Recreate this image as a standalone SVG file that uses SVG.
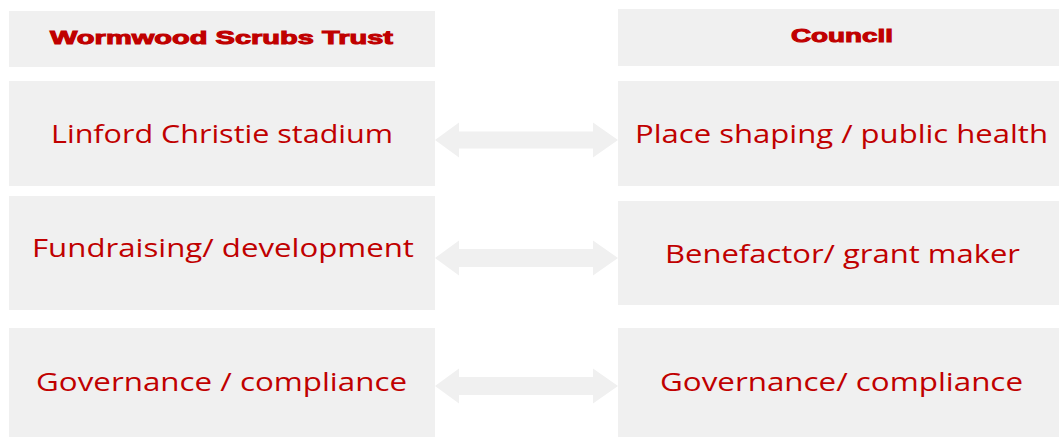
<svg xmlns="http://www.w3.org/2000/svg" width="1059" height="437" viewBox="0 0 1059 437">
  <style>
    .box { fill: #f0f0f0; }
    .arrow { fill: #f0f0f0; }
    .head { font-family: "Liberation Sans", Arial, sans-serif; font-weight: 900; font-size: 19px; fill: #c00000; stroke: #c00000; stroke-width: 1; text-anchor: start; }
    .label { font-family: "Open Sans", "Noto Sans", sans-serif; font-size: 25px; fill: #c00000; text-anchor: start; }
  </style>
  <rect width="1059" height="437" fill="#ffffff"/>

  <!-- column headers -->
  <g id="trust-header">
    <rect class="box" x="9" y="11" width="426" height="56"/>
    <text class="head" x="50" y="44" textLength="343" lengthAdjust="spacingAndGlyphs">Wormwood Scrubs Trust</text>
  </g>
  <g id="council-header">
    <rect class="box" x="618" y="9" width="441" height="57"/>
    <text class="head" x="791" y="42" textLength="102" lengthAdjust="spacingAndGlyphs">Council</text>
  </g>

  <!-- trust roles -->
  <g id="trust-stadium">
    <rect class="box" x="9" y="81" width="426" height="105"/>
    <text class="label" x="51" y="143" textLength="342" lengthAdjust="spacingAndGlyphs">Linford Christie stadium</text>
  </g>
  <g id="trust-fundraising">
    <rect class="box" x="9" y="196" width="426" height="114"/>
    <text class="label" x="32" y="257" textLength="382" lengthAdjust="spacingAndGlyphs">Fundraising/ development</text>
  </g>
  <g id="trust-governance">
    <rect class="box" x="9" y="328" width="426" height="109"/>
    <text class="label" x="36" y="391" textLength="371" lengthAdjust="spacingAndGlyphs">Governance / compliance</text>
  </g>

  <!-- council roles -->
  <g id="council-place">
    <rect class="box" x="618" y="81" width="441" height="105"/>
    <text class="label" x="635" y="143" textLength="413" lengthAdjust="spacingAndGlyphs">Place shaping / public health</text>
  </g>
  <g id="council-benefactor">
    <rect class="box" x="618" y="201" width="441" height="104"/>
    <text class="label" x="665" y="263" textLength="355" lengthAdjust="spacingAndGlyphs">Benefactor/ grant maker</text>
  </g>
  <g id="council-governance">
    <rect class="box" x="618" y="328" width="441" height="109"/>
    <text class="label" x="660" y="391" textLength="363" lengthAdjust="spacingAndGlyphs">Governance/ compliance</text>
  </g>

  <!-- two-way block arrows between the columns -->
  <g id="connectors">
    <polygon class="arrow" points="435,140 459,122.5 459,131.5 593,131.5 593,122.5 618,140 593,157.5 593,148.5 459,148.5 459,157.5"/>
    <polygon class="arrow" points="435,258 459,240.5 459,249 593,249 593,240.5 618,258 593,275.5 593,267 459,267 459,275.5"/>
    <polygon class="arrow" points="435,386 459,368.5 459,377 593,377 593,368.5 618,386 593,403.5 593,395 459,395 459,403.5"/>
  </g>
</svg>
